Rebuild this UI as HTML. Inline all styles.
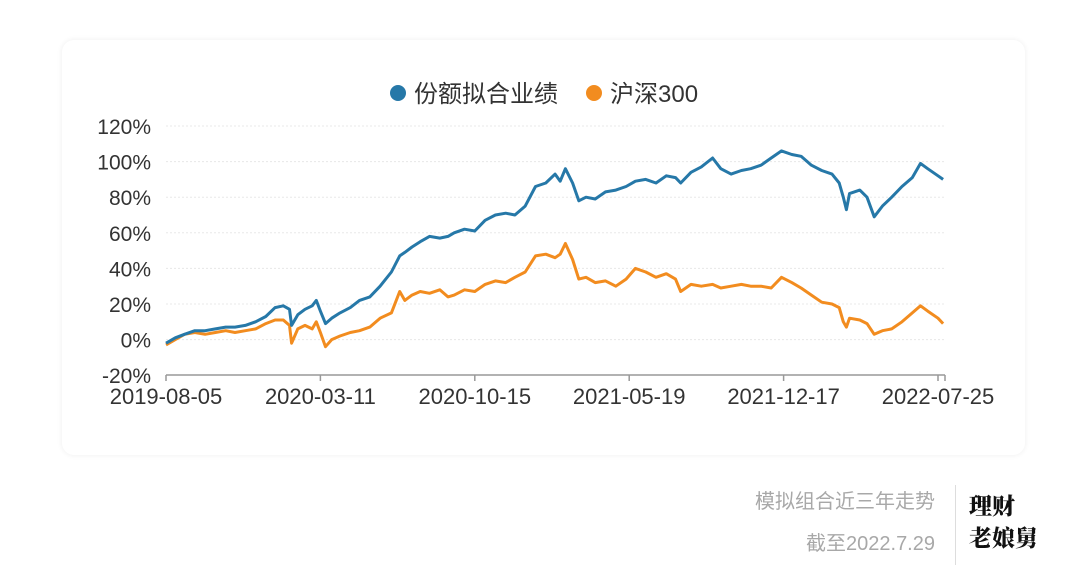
<!DOCTYPE html>
<html><head><meta charset="utf-8">
<style>
html,body{margin:0;padding:0;background:#fff;}
body{width:1080px;height:588px;position:relative;overflow:hidden;font-family:"Liberation Sans","Noto Sans CJK SC",sans-serif;}
.card{position:absolute;left:62px;top:40px;width:963px;height:415px;background:#fff;border-radius:12px;box-shadow:0 0 6px rgba(0,0,0,0.07);}
.note{position:absolute;color:#a8a8a8;font-size:20px;text-align:right;right:145px;white-space:nowrap;}
.brand{position:absolute;left:969px;font-family:"Noto Serif CJK SC","Liberation Serif",serif;font-weight:900;font-size:23px;color:#111;white-space:nowrap;}
</style></head><body>
<div class="card"></div>
<svg id="chart" width="1080" height="588" style="position:absolute;left:0;top:0"></svg>
<div class="note" style="top:485px">模拟组合近三年走势</div>
<div class="note" style="top:527px">截至2022.7.29</div>
<div style="position:absolute;left:955px;top:485px;width:1px;height:80px;background:#ddd"></div>
<div class="brand" style="top:488px">理财</div>
<div class="brand" style="top:520px">老娘舅</div>
<script>
const dayIndex=[0,9,18,28,38,48,58,67,77,87,97,106,114,120,122,128,135,142,146,150,155,161,169,179,188,198,208,219,227,232,239,247,256,266,274,280,290,300,310,320,330,339,349,359,369,378,383,388,395,401,408,417,427,437,447,456,466,476,486,495,500,510,520,531,539,549,559,568,578,588,598,608,617,627,637,647,654,658,661,664,674,681,688,696,705,715,725,733,740,750,755];
const fundValues=[-2,1,3,5,5,6,7,7,8,10,13,18,19,17,8,14,17,19,22,16,9,12,15,18,22,24,30,38,47,49,52,55,58,57,58,60,62,61,67,70,71,70,75,86,88,93,89,96,88,78,80,79,83,84,86,89,90,88,92,91,88,94,97,102,96,93,95,96,98,102,106,104,103,98,95,93,88,80,73,82,84,80,69,75,80,86,91,99,96,92,90];
const hs300Values=[-3,0,3,4,3,4,5,4,5,6,9,11,11,8,-2,6,8,6,10,4,-4,0,2,4,5,7,12,15,27,22,25,27,26,28,24,25,28,27,31,33,32,35,38,47,48,46,48,54,45,34,35,32,33,30,34,40,38,35,37,34,27,31,30,31,29,30,31,30,30,29,35,32,29,25,21,20,18,10,7,12,11,9,3,5,6,10,15,19,16,12,9];
const yTicks=[-20,0,20,40,60,80,100,120];
const xTickIdx=[0,150,300,450,600,750];
const xTickLabels=["2019-08-05","2020-03-11","2020-10-15","2021-05-19","2021-12-17","2022-07-25"];
const seriesNames=["份额拟合业绩","沪深300"];
const colors=["#2678a8","#f28c1f"];
const NS="http://www.w3.org/2000/svg";
const svg=document.getElementById('chart');
const X=i=>166+i*(772/750);
const Y=v=>339.6-v*(35.6/20);
function mk(t,a){const e=document.createElementNS(NS,t);for(const k in a)e.setAttribute(k,a[k]);svg.appendChild(e);return e;}
yTicks.forEach(v=>{
  if(v>-20){const g=mk('line',{x1:166,x2:945,y1:Y(v),y2:Y(v),stroke:'#e8e8e8','stroke-dasharray':'2,2'});
  
  }
  const t=mk('text',{x:151,y:Y(v)+8,'text-anchor':'end','font-size':21,fill:'#333','font-family':'Liberation Sans, sans-serif'});
  t.textContent=v+'%';
  
  
});
const ax=mk('line',{x1:166,x2:945,y1:375,y2:375,stroke:'#999','stroke-width':1.5});


const axe=mk('line',{x1:945,x2:945,y1:375,y2:381,stroke:'#999','stroke-width':1.5});


xTickIdx.forEach((d,i)=>{
  const l=mk('line',{x1:X(d),x2:X(d),y1:375,y2:381,stroke:'#999','stroke-width':1.5});
  
  
  const t=mk('text',{x:X(d),y:404,'text-anchor':'middle','font-size':22,fill:'#333','font-family':'Liberation Sans, sans-serif'});
  t.textContent=xTickLabels[i];
  
  
});
[hs300Values,fundValues].forEach((vals,k)=>{
  const ci=k===0?1:0;
  const p=mk('polyline',{points:vals.map((v,i)=>X(dayIndex[i]).toFixed(1)+','+Y(v).toFixed(1)).join(' '),fill:'none',stroke:colors[ci],'stroke-width':3,'stroke-linejoin':'round'});
  
  
});
const legX=[398,594];
seriesNames.forEach((n,i)=>{
  const c=mk('circle',{cx:legX[i],cy:93,r:8,fill:colors[i]});
  
  
  const t=mk('text',{x:legX[i]+16,y:102,'font-size':24,fill:'#333','font-family':'Liberation Sans, Noto Sans CJK SC, sans-serif'});
  t.textContent=n;
  
  
});
</script>
</body></html>
